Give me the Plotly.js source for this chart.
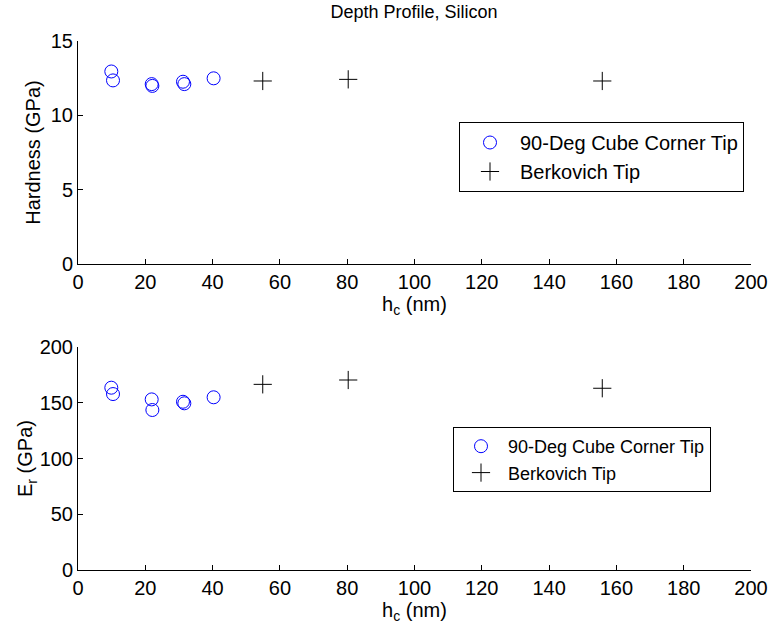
<!DOCTYPE html>
<html>
<head>
<meta charset="utf-8">
<script src="https://cdn.plot.ly/plotly-3.0.1.min.js"></script>
<style>html,body{margin:0;padding:0;background:#fff}#chart{width:770px;height:631px}</style>
</head>
<body>
<div id="chart"></div>
<script>
// Data
const cubeDepth = [9.9, 10.4, 21.9, 22.1, 31.2, 31.6, 40.3];
const cubeHardness = [12.95, 12.35, 12.1, 11.98, 12.26, 12.1, 12.49];
const cubeModulus = [163.5, 157.8, 153, 143.5, 150.9, 149.5, 154.9];
const berkDepth = [54.9, 80.3, 155.8];
const berkHardness = [12.31, 12.42, 12.31];
const berkModulus = [166.5, 170.4, 163];
const seriesNames = ['90-Deg Cube Corner Tip', 'Berkovich Tip'];
const xTicks = [0, 20, 40, 60, 80, 100, 120, 140, 160, 180, 200];
const hTicks = [0, 5, 10, 15];
const eTicks = [0, 50, 100, 150, 200];

const FONT = 'Liberation Sans, Arial, Helvetica, sans-serif';
const FS = 20;
const W = 770, H = 631;
const px = (a, b) => [a / W, b / W];
const py = (top, bottom) => [(H - bottom) / H, (H - top) / H];

const circ = {symbol: 'circle-open', size: 13, color: '#0000ff', line: {width: 1, color: '#0000ff'}};
const plus = {symbol: 'cross-thin-open', size: 13, color: '#000000', line: {width: 1, color: '#000000'}};

const traces = [
  {x: cubeDepth, y: cubeHardness, xaxis: 'x', yaxis: 'y', type: 'scatter', mode: 'markers', name: seriesNames[0], marker: circ, legend: 'legend'},
  {x: berkDepth, y: berkHardness, xaxis: 'x', yaxis: 'y', type: 'scatter', mode: 'markers', name: seriesNames[1], marker: plus, legend: 'legend'},
  {x: cubeDepth, y: cubeModulus, xaxis: 'x2', yaxis: 'y2', type: 'scatter', mode: 'markers', name: seriesNames[0], marker: circ, legend: 'legend2'},
  {x: berkDepth, y: berkModulus, xaxis: 'x2', yaxis: 'y2', type: 'scatter', mode: 'markers', name: seriesNames[1], marker: plus, legend: 'legend2'}
];

const axBase = {
  showline: true, linecolor: '#000', linewidth: 1, mirror: false,
  ticks: 'inside', ticklen: 5, tickcolor: '#000', tickwidth: 1,
  showgrid: false, zeroline: false, tickmode: 'array',
  tickfont: {family: FONT, size: FS, color: '#000'}
};
const xTitle = {text: 'h<sub>c</sub> (nm)', font: {family: FONT, size: FS, color: '#000'}, standoff: 0};

const legBase = {
  xanchor: 'left', yanchor: 'top', bgcolor: '#fff', bordercolor: '#000', borderwidth: 1,
  tracegroupgap: 0
};

const layout = {
  width: W, height: H,
  margin: {l: 0, r: 0, t: 0, b: 0},
  paper_bgcolor: '#fff', plot_bgcolor: '#fff',
  showlegend: true,
  title: {text: 'Depth Profile, Silicon', font: {family: FONT, size: 18, color: '#000'}, x: 414 / W, xanchor: 'center', y: 1 - 12 / H, yanchor: 'middle'},
  xaxis: Object.assign({}, axBase, {domain: px(78, 751), range: [0, 200], tickvals: xTicks, anchor: 'y', title: xTitle}),
  yaxis: Object.assign({}, axBase, {domain: py(41, 264), range: [0, 15], tickvals: hTicks, anchor: 'x',
    title: {text: 'Hardness (GPa)', font: {family: FONT, size: FS, color: '#000'}, standoff: 4}}),
  xaxis2: Object.assign({}, axBase, {domain: px(78, 751), range: [0, 200], tickvals: xTicks, anchor: 'y2', title: xTitle}),
  yaxis2: Object.assign({}, axBase, {domain: py(347, 570), range: [0, 200], tickvals: eTicks, anchor: 'x2',
    title: {text: 'E<sub>r</sub> (GPa)', font: {family: FONT, size: FS, color: '#000'}, standoff: 0}}),
  legend: Object.assign({}, legBase, {x: 459 / W, y: 1 - 122 / H, itemwidth: 50,
    font: {family: FONT, size: 20, color: '#000'}}),
  legend2: Object.assign({}, legBase, {x: 453 / W, y: 1 - 427 / H, itemwidth: 44,
    font: {family: FONT, size: 18, color: '#000'}})
};

Plotly.newPlot('chart', traces, layout, {displayModeBar: false, staticPlot: true});
</script>
</body>
</html>
